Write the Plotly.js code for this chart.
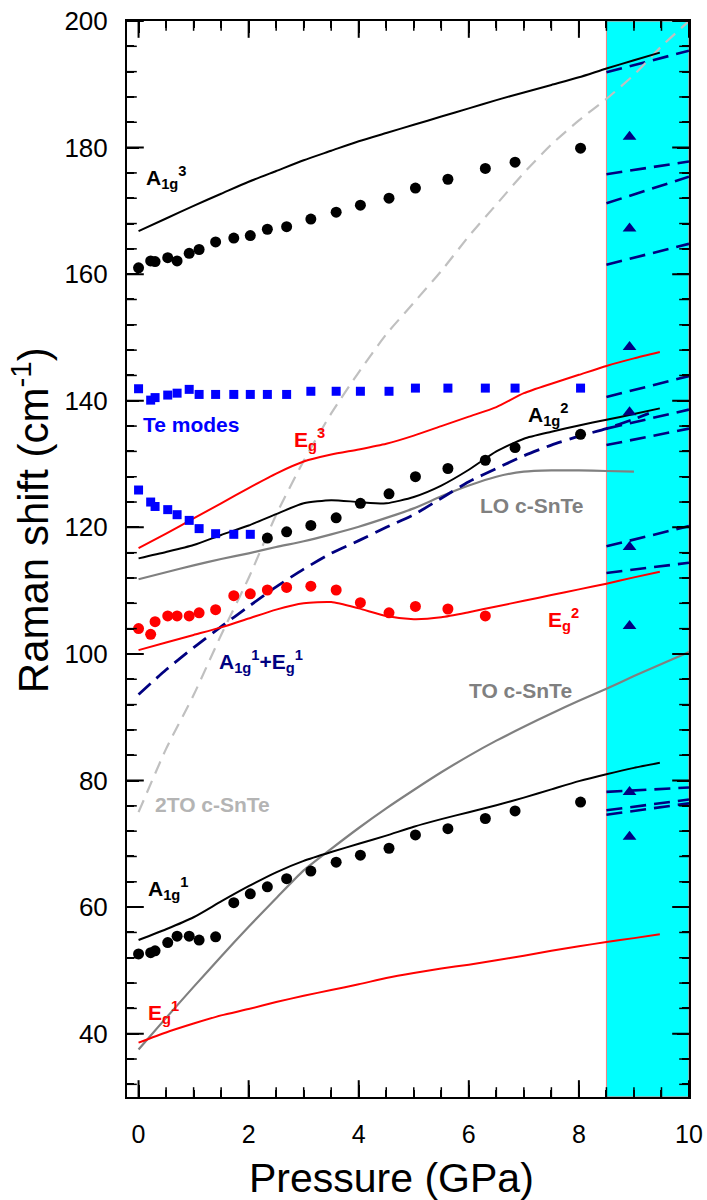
<!DOCTYPE html>
<html>
<head>
<meta charset="utf-8">
<script src="https://cdn.plot.ly/plotly-3.0.1.min.js"></script>
<style>
html,body{margin:0;padding:0;background:#fff;}
#chart{width:707px;height:1200px;}
</style>
</head>
<body>
<div id="chart"></div>
<script>
// ---- experimental data (pressure in GPa) ----
var P_exp = [0, 0.22, 0.30, 0.53, 0.70, 0.92, 1.10, 1.40, 1.73, 2.03, 2.34, 2.69, 3.13, 3.59, 4.03, 4.55, 5.03, 5.62, 6.30, 6.84, 8.03];
var A1g3_exp = [161.0, 162.1, 162.0, 162.6, 162.1, 163.3, 163.9, 165.1, 165.7, 166.1, 167.1, 167.5, 168.7, 169.8, 170.9, 172.0, 173.6, 175.0, 176.7, 177.7, 179.9];
var TeHigh_exp = [141.9, 140.1, 140.5, 140.9, 141.2, 141.8, 141.0, 141.0, 141.0, 141.0, 141.0, 141.0, 141.5, 141.5, 141.5, 141.5, 142.0, 142.0, 142.0, 142.0, 142.0];
var P_teLow = [0, 0.22, 0.30, 0.53, 0.70, 0.92, 1.10, 1.40, 1.73, 2.03];
var TeLow_exp = [125.9, 124.0, 123.3, 122.8, 122.0, 121.1, 119.8, 119.0, 118.9, 118.9];
var P_a1g2 = [2.34, 2.69, 3.13, 3.59, 4.03, 4.55, 5.03, 5.62, 6.30, 6.84, 8.03];
var A1g2_exp = [118.3, 119.3, 120.3, 121.5, 123.8, 125.3, 128.0, 129.3, 130.6, 132.6, 134.7];
var P_eg2 = [0, 0.22, 0.30, 0.53, 0.70, 0.92, 1.10, 1.40, 1.73, 2.03, 2.34, 2.69, 3.13, 3.59, 4.03, 4.55, 5.03, 5.62, 6.30];
var Eg2_exp = [104.0, 103.1, 105.1, 106.0, 106.0, 106.0, 106.5, 107.0, 109.2, 109.5, 110.1, 110.5, 110.7, 110.1, 108.1, 106.5, 107.5, 107.1, 106.0];
var A1g1_exp = [52.6, 52.8, 53.1, 54.4, 55.4, 55.4, 54.8, 55.3, 60.7, 62.1, 63.2, 64.5, 65.7, 67.1, 68.2, 69.3, 71.4, 72.4, 74.0, 75.2, 76.6];
var P_tri = [8.92, 8.92, 8.92, 8.92, 8.92, 8.92, 8.92, 8.92];
var Tri_exp = [181.7, 167.2, 148.5, 138.2, 116.9, 104.4, 78.2, 71.1];

// ---- calculated curves ----
var P_calc = [0, 0.5, 1, 1.5, 2, 2.5, 3, 3.5, 4, 4.5, 5, 5.5, 6, 6.5, 7, 7.5, 8, 8.5, 9, 9.47];
var A1g3_calc = [166.8, 168.8, 170.8, 172.7, 174.6, 176.3, 178.0, 179.5, 181.0, 182.3, 183.6, 184.9, 186.2, 187.5, 188.7, 189.9, 191.1, 192.5, 193.8, 195.0];
var Eg3_calc = [116.7, 119.0, 121.4, 123.8, 126.2, 128.5, 130.4, 131.5, 132.3, 133.2, 134.5, 136.0, 137.5, 139.0, 141.2, 142.7, 144.1, 145.5, 146.7, 147.7];
var A1g2_calc = [115.1, 116.1, 117.2, 118.8, 120.3, 122.1, 123.8, 124.3, 124.0, 123.8, 124.8, 126.6, 129.1, 132.0, 134.0, 135.1, 136.1, 137.0, 137.9, 138.8];
var Eg2_calc = [100.6, 101.8, 103.0, 104.2, 105.6, 107.0, 108.0, 108.2, 107.2, 106.0, 105.5, 105.8, 106.6, 107.5, 108.4, 109.3, 110.2, 111.1, 112.1, 113.0];
var A1g1_calc = [54.8, 56.5, 58.4, 60.9, 63.3, 65.5, 67.3, 68.7, 70.0, 71.3, 72.7, 73.9, 75.0, 76.1, 77.3, 78.6, 79.9, 81.0, 82.0, 82.8];
var Eg1_calc = [38.6, 40.2, 41.6, 42.9, 43.9, 45.0, 46.0, 46.9, 47.8, 48.8, 49.6, 50.3, 50.9, 51.6, 52.3, 53.1, 53.8, 54.5, 55.1, 55.7];
var P_lo = [0, 0.5, 1, 1.5, 2, 2.5, 3, 3.5, 4, 4.5, 5, 5.5, 6, 6.5, 7, 7.5, 8, 8.5, 9];
var LO_calc = [111.8, 112.9, 114.0, 115.0, 115.9, 116.9, 117.8, 118.9, 120.1, 121.5, 123.0, 124.9, 126.6, 128.0, 128.8, 129.0, 129.0, 128.9, 128.8];
var P_to = [0, 0.5, 1, 1.5, 2, 2.5, 3, 3.5, 4, 4.5, 5, 5.5, 6, 6.5, 7, 7.5, 8, 8.5, 9, 9.5, 10];
var TO_calc = [37.5, 42.5, 47.4, 52.2, 56.9, 61.4, 65.8, 69.2, 72.5, 75.6, 78.5, 81.3, 83.9, 86.3, 88.5, 90.6, 92.6, 94.5, 96.5, 98.4, 100.3];
var TTO_calc = [75.0, 85.0, 93.5, 103.0, 112.0, 122.0, 130.5, 138.0, 144.5, 150.5, 155.5, 160.5, 166.0, 171.0, 176.0, 180.5, 184.3, 187.7, 191.5, 196.0, 200.0];
var P_ae = [0, 0.5, 1, 1.5, 2, 2.5, 3, 3.5, 4, 4.5, 5, 5.5, 6, 6.5, 7, 7.5, 8, 8.5, 9, 9.27];
var AE_calc = [93.6, 97.5, 101.0, 104.3, 107.5, 110.6, 113.4, 115.9, 117.9, 120.0, 122.0, 124.6, 127.2, 129.3, 131.3, 133.0, 134.4, 135.6, 137.1, 138.0];

// ---- high-pressure phase segments (8.5 -> 10 GPa) ----
var P_hp = [8.5, 10];
var HP_start = [191.9, 175.8, 171.2, 161.5, 140.6, 135.6, 133.0, 117.0, 112.8, 78.2, 75.3, 74.6];
var HP_end   = [195.3, 177.8, 175.4, 164.8, 143.9, 138.6, 135.6, 120.2, 114.4, 78.9, 77.0, 76.4];

// ---- tick positions ----
var X_RANGE = [-0.21, 10], Y_RANGE = [30, 200];
var xMajorTicks = [0, 2, 4, 6, 8, 10];
var xMinorTicks = [0.5, 1, 1.5, 2.5, 3, 3.5, 4.5, 5, 5.5, 6.5, 7, 7.5, 8.5, 9, 9.5];
var yMajorTicks = [40, 60, 80, 100, 120, 140, 160, 180, 200];
var yMinorTicks = [32, 36, 44, 48, 52, 56, 64, 68, 72, 76, 84, 88, 92, 96, 104, 108, 112, 116, 124, 128, 132, 136, 144, 148, 152, 156, 164, 168, 172, 176, 184, 188, 192, 196];

var BLACK = '#000000', RED = '#ff0000', BLUE = '#0000ff', NAVY = '#000080', GRAY = '#808080', LGRAY = '#c0c0c0';

var traces = [];
function line(x, y, color, width, dash) {
  traces.push({x: x, y: y, mode: 'lines', type: 'scatter', hoverinfo: 'skip',
    line: {color: color, width: width, dash: dash || 'solid', shape: 'spline', smoothing: 0.6}, showlegend: false});
}
function pts(x, y, color, symbol, size) {
  traces.push({x: x, y: y, mode: 'markers', type: 'scatter', hoverinfo: 'skip',
    marker: {color: color, symbol: symbol, size: size, line: {width: 0}}, showlegend: false});
}
// tick marks drawn as clipped line markers sitting on the frame (half of each lies inside)
function tickMarks(vals, fixed, isX, len, width) {
  var a = [], b = [];
  for (var s = 0; s < fixed.length; s++) {
    for (var t = 0; t < vals.length; t++) { a.push(vals[t]); b.push(fixed[s]); }
  }
  traces.push({x: isX ? a : b, y: isX ? b : a, mode: 'markers', type: 'scatter', hoverinfo: 'skip',
    cliponaxis: true, showlegend: false,
    marker: {symbol: isX ? 'line-ns' : 'line-ew', size: 2 * len, color: BLACK,
             line: {color: BLACK, width: width}}});
}

for (var i = 0; i < HP_start.length; i++) {
  line(P_hp, [HP_start[i], HP_end[i]], NAVY, 2.6, '16px,8px');
}
line(P_to, TTO_calc, LGRAY, 2.2, '13px,8px');
line(P_to, TO_calc, GRAY, 2.2);
line(P_lo, LO_calc, GRAY, 2.2);
line(P_ae, AE_calc, NAVY, 2.8, '16px,8px');
line(P_calc, A1g3_calc, BLACK, 2);
line(P_calc, A1g2_calc, BLACK, 2);
line(P_calc, A1g1_calc, BLACK, 2);
line(P_calc, Eg3_calc, RED, 2);
line(P_calc, Eg2_calc, RED, 2);
line(P_calc, Eg1_calc, RED, 2);

pts(P_exp, A1g3_exp, BLACK, 'circle', 11);
pts(P_exp, TeHigh_exp, BLUE, 'square', 9);
pts(P_teLow, TeLow_exp, BLUE, 'square', 9);
pts(P_a1g2, A1g2_exp, BLACK, 'circle', 11);
pts(P_eg2, Eg2_exp, RED, 'circle', 11);
pts(P_exp, A1g1_exp, BLACK, 'circle', 11);
pts(P_tri, Tri_exp, NAVY, 'triangle-up', 12);

tickMarks(xMajorTicks, Y_RANGE, true, 12, 2);
tickMarks(xMinorTicks, Y_RANGE, true, 7, 1.5);
tickMarks(yMajorTicks, X_RANGE, false, 12, 2);
tickMarks(yMinorTicks, X_RANGE, false, 7, 1.5);

var LF = 'Liberation Sans, Arial, sans-serif';
function ann(x, y, text, color) {
  return {x: x, y: y, xref: 'x', yref: 'y', text: text, showarrow: false,
    xanchor: 'left', yanchor: 'middle', font: {family: LF, size: 21, color: color}};
}
var annotations = [
  ann(0.10, 175.2, '<b>A<sub>1g</sub><sup>3</sup></b>', BLACK),
  ann(0.04, 136.3, '<b>Te modes</b>', BLUE),
  ann(2.79, 133.9, '<b>E<sub>g</sub><sup>3</sup></b>', RED),
  ann(7.04, 137.9, '<b>A<sub>1g</sub><sup>2</sup></b>', BLACK),
  ann(6.16, 123.5, '<b>LO c-SnTe</b>', GRAY),
  ann(7.41, 105.5, '<b>E<sub>g</sub><sup>2</sup></b>', RED),
  ann(1.43, 98.8, '<b>A<sub>1g</sub><sup>1</sup>+E<sub>g</sub><sup>1</sup></b>', NAVY),
  ann(5.97, 94.3, '<b>TO c-SnTe</b>', GRAY),
  ann(0.27, 76.2, '<b>2TO c-SnTe</b>', '#b4b4b4'),
  ann(0.13, 62.9, '<b>A<sub>1g</sub><sup>1</sup></b>', BLACK),
  ann(0.13, 43.4, '<b>E<sub>g</sub><sup>1</sup></b>', RED),
  {xref: 'paper', yref: 'paper', x: -0.171, y: 0.536, xanchor: 'center', yanchor: 'middle', textangle: -90,
   text: 'Raman shift (cm<sup>-1</sup>)', showarrow: false, font: {family: LF, size: 42, color: '#000'}},
  {xref: 'paper', yref: 'paper', x: 0.47, y: -0.0753, xanchor: 'center', yanchor: 'middle',
   text: 'Pressure (GPa)', showarrow: false, font: {family: LF, size: 41, color: '#000'}}
];

var layout = {
  width: 707, height: 1200,
  margin: {l: 127, r: 18, t: 21, b: 103},
  showlegend: false,
  xaxis: {
    range: X_RANGE, tick0: 0, dtick: 2, ticks: 'inside', ticklen: 12, tickwidth: 2, tickcolor: '#000000',
    minor: {dtick: 0.5, ticks: 'inside', ticklen: 7, tickwidth: 1.5, tickcolor: '#000000'},
    showline: true, linewidth: 2, linecolor: '#000000', mirror: 'allticks', showgrid: false, zeroline: false,
    tickfont: {family: LF, size: 25, color: '#000'}, ticklabelstandoff: 14
  },
  yaxis: {
    range: Y_RANGE, tick0: 0, dtick: 20, ticks: 'inside', ticklen: 12, tickwidth: 2, tickcolor: '#000000',
    minor: {dtick: 4, ticks: 'inside', ticklen: 7, tickwidth: 1.5, tickcolor: '#000000'},
    showline: true, linewidth: 2, linecolor: '#000000', mirror: 'allticks', showgrid: false, zeroline: false,
    tickfont: {family: LF, size: 26, color: '#000'}, ticklabelstandoff: 12
  },
  shapes: [{type: 'rect', xref: 'x', yref: 'y', x0: 8.5, x1: 10, y0: 30, y1: 200,
    fillcolor: '#00ffff', line: {color: '#f08080', width: 1}, layer: 'below'}],
  annotations: annotations
};

Plotly.newPlot('chart', traces, layout, {displayModeBar: false});
</script>
</body>
</html>
